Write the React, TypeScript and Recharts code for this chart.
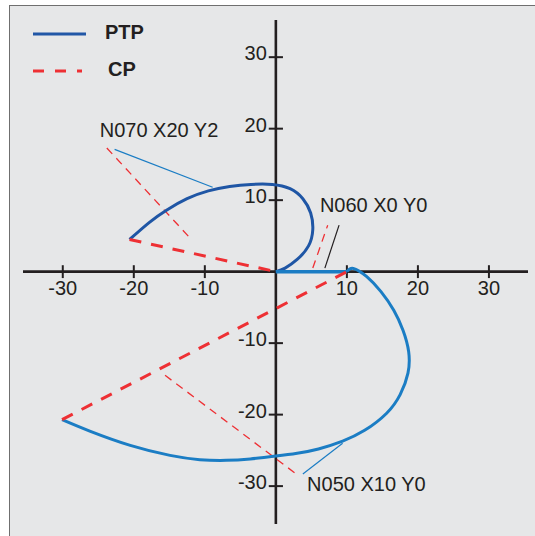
import React from 'react';
import { LineChart, Line, XAxis, YAxis, ReferenceLine, ReferenceDot } from 'recharts';

type Pt = { x: number; y: number };
const toPts = (rows: number[][]): Pt[] => rows.map(([x, y]) => ({ x, y }));

// PTP path (three pieces)
const ptpUpper = toPts([
  [-20.6, 4.5], [-17.8, 6.9], [-15.4, 8.6], [-12.5, 10.2], [-9.5, 11.3], [-6.5, 11.9],
  [-3.5, 12.2], [-0.5, 12.2], [2.0, 11.6], [3.8, 10.2], [4.9, 8.2], [5.2, 5.9],
  [4.6, 3.6], [3.0, 1.7], [1.3, 0.5], [0, 0],
]);
const ptpAxis = toPts([[0, 0], [10, 0]]);
const ptpLower = toPts([
  [10, 0], [10.9, 0.45], [12.8, -0.7], [14.8, -2.8], [16.6, -5.4], [17.9, -8.2],
  [18.7, -11.2], [18.6, -14.2], [17.5, -17.2], [15.6, -19.8], [12.5, -22.2], [9.4, -23.7],
  [6.0, -24.8], [3.0, -25.4], [0, -25.8], [-3.6, -26.2], [-7.0, -26.4], [-10.7, -26.3],
  [-14.9, -25.7], [-20.5, -24.3], [-26.2, -22.3], [-30.1, -20.7],
]);

// CP path
const cpUpper = toPts([[-20.6, 4.5], [0, 0]]);
const cpLower = toPts([[-30.1, -20.7], [10, 0]]);

// thin construction / leader lines
const guideN070 = toPts([[-23.8, 17.3], [-11.8, 4.4]]);
const guideN060 = toPts([[5.2, 0.5], [7.3, 6.5]]);
const guideN050 = toPts([[-15.6, -14.5], [3.0, -28.4]]);
const leaderN070 = toPts([[-22.7, 17.1], [-8.9, 11.8]]);
const leaderN060 = toPts([[8.9, 6.5], [6.9, 0.5]]);
const leaderN050 = toPts([[3.8, -28.3], [9.4, -24.0]]);

const xTicks = [-30, -20, -10, 10, 20, 30];
const yTicks = [-30, -20, -10, 10, 20, 30];

const notes = [
  { text: 'N070 X20 Y2', x: -24.8, y: 18.8 },
  { text: 'N060 X0 Y0', x: 6.2, y: 8.4 },
  { text: 'N050 X10 Y0', x: 4.4, y: -30.7 },
];

const legendItems = [
  { name: 'PTP', color: '#2157a6', dash: undefined as string | undefined },
  { name: 'CP', color: '#ee3034', dash: '11 11' },
];

const INK = '#231f20';
const FONT = '"Liberation Sans", Arial, sans-serif';
const DARK_BLUE = '#1f56a5';
const LIGHT_BLUE = '#1b7dc4';
const RED = '#ee3034';

export default function App() {
  const line = (data: Pt[], stroke: string, width: number, dash?: string, type: any = 'linear', key?: string) => (
    <Line
      key={key}
      data={data}
      dataKey="y"
      type={type}
      stroke={stroke}
      strokeWidth={width}
      strokeDasharray={dash}
      dot={false}
      activeDot={false}
      isAnimationActive={false}
    />
  );

  return (
    <div style={{ position: 'absolute', left: 0, top: 0, width: 535, height: 536, background: '#fff', overflow: 'hidden', fontFamily: FONT }}>
      <div style={{ position: 'absolute', left: 9, top: 5, right: -4, bottom: -4, background: '#e6e7e8', borderTop: '1.5px solid #6f6f6f', borderLeft: '1.5px solid #6f6f6f' }} />
      <div style={{ position: 'absolute', left: 0, top: 0 }}>
        <LineChart width={535} height={536} margin={{ top: 20, right: 7, bottom: 12, left: 23 }}>
          <XAxis dataKey="x" type="number" domain={[-35.6, 35.5]} allowDataOverflow hide />
          <YAxis type="number" domain={[-35.3, 35.2]} allowDataOverflow hide />
          <ReferenceLine y={0} stroke={INK} strokeWidth={2.6} />
          <ReferenceLine x={0} stroke={INK} strokeWidth={2.6} />
          {xTicks.map((t) => (
            <ReferenceLine key={'xt' + t} segment={[{ x: t, y: -0.9 }, { x: t, y: 0.9 }]} stroke={INK} strokeWidth={2} />
          ))}
          {yTicks.map((t) => (
            <ReferenceLine key={'yt' + t} segment={[{ x: -1, y: t }, { x: 1, y: t }]} stroke={INK} strokeWidth={2} />
          ))}
          {xTicks.map((t) => (
            <ReferenceDot
              key={'xl' + t}
              x={t}
              y={0}
              r={0}
              fill="none"
              stroke="none"
              label={(p: any) => (
                <text x={p.viewBox.x} y={p.viewBox.y + 23.5} textAnchor="middle" fontSize={20} fill={INK} fontFamily={FONT}>
                  {t}
                </text>
              )}
            />
          ))}
          {yTicks.map((t) => (
            <ReferenceDot
              key={'yl' + t}
              x={0}
              y={t}
              r={0}
              fill="none"
              stroke="none"
              label={(p: any) => (
                <text x={p.viewBox.x - 9} y={p.viewBox.y + 3} textAnchor="end" fontSize={20} fill={INK} fontFamily={FONT}>
                  {t}
                </text>
              )}
            />
          ))}
          {line(guideN070, RED, 1.3, '8 6', 'linear', 'g1')}
          {line(guideN060, RED, 1.3, '8 6', 'linear', 'g2')}
          {line(guideN050, RED, 1.3, '8 6', 'linear', 'g3')}
          {line(leaderN070, LIGHT_BLUE, 1.2, undefined, 'linear', 'l1')}
          {line(leaderN060, INK, 1.2, undefined, 'linear', 'l2')}
          {line(leaderN050, LIGHT_BLUE, 1.2, undefined, 'linear', 'l3')}
          {line(ptpUpper, DARK_BLUE, 3, undefined, 'natural', 'p1')}
          {line(ptpAxis, LIGHT_BLUE, 3.5, undefined, 'linear', 'p2')}
          {line(ptpLower, LIGHT_BLUE, 3, undefined, 'natural', 'p3')}
          {line(cpUpper, RED, 3, '12 10', 'linear', 'c1')}
          {line(cpLower, RED, 3, '12 10', 'linear', 'c2')}
          {notes.map((n) => (
            <ReferenceDot
              key={n.text}
              x={n.x}
              y={n.y}
              r={0}
              fill="none"
              stroke="none"
              label={(p: any) => (
                <text x={p.viewBox.x} y={p.viewBox.y} textAnchor="start" fontSize={20} fill={INK} fontFamily={FONT}>
                  {n.text}
                </text>
              )}
            />
          ))}
        </LineChart>
      </div>
      <svg width={160} height={90} style={{ position: 'absolute', left: 0, top: 0 }}>
        {legendItems.map((it, i) => (
          <g key={it.name}>
            <line x1={33} x2={i === 0 ? 86 : 82} y1={34 + i * 37} y2={34 + i * 37} stroke={it.color} strokeWidth={3} strokeDasharray={it.dash} />
            <text x={i === 0 ? 105 : 108} y={38.5 + i * 37} fontSize={20} fontWeight="bold" fill={INK} fontFamily={FONT}>
              {it.name}
            </text>
          </g>
        ))}
      </svg>
    </div>
  );
}
